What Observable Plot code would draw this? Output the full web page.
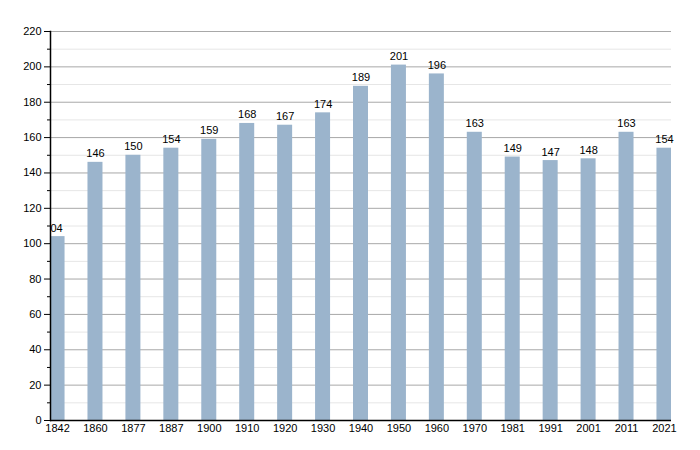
<!DOCTYPE html>
<html>
<head>
<meta charset="utf-8">
<script src="https://cdn.jsdelivr.net/npm/d3@7"></script>
<script src="https://cdn.jsdelivr.net/npm/@observablehq/plot@0.6"></script>
<style>
  html, body { margin: 0; padding: 0; background: #fff; }
</style>
</head>
<body>
<div id="chart"></div>
<script>
const years = ["1842","1860","1877","1887","1900","1910","1920","1930","1940","1950","1960","1970","1981","1991","2001","2011","2021"];
const population = [104,146,150,154,159,168,167,174,189,201,196,163,149,147,148,163,154];
const majorTicks = [0,20,40,60,80,100,120,140,160,180,200,220];
const minorTicks = [10,30,50,70,90,110,130,150,170,190,210];

const data = years.map((y, i) => ({year: y, value: population[i]}));

const labelOpts = (clip) => ({x: "year", y: "value", text: d => String(d.value), lineAnchor: "bottom", dy: -5, fill: "#000", fontSize: 11, clip});

const chart = Plot.plot({
  width: 700,
  height: 450,
  marginTop: 31,
  marginBottom: 30,
  marginLeft: 50,
  marginRight: 29,
  style: {fontFamily: "'Liberation Sans', Arial, Helvetica, sans-serif", fontSize: "11px", color: "#000", background: "#fff"},
  x: {type: "band", domain: years, paddingInner: 0.6045, paddingOuter: -0.012, round: false, label: null},
  y: {domain: [0, 220], label: null},
  marks: [
    Plot.ruleY(minorTicks, {stroke: "#e6e6e6", strokeWidth: 1}),
    Plot.ruleY(majorTicks.filter(d => d > 0), {stroke: "#a8a8a8", strokeWidth: 1}),
    Plot.barY(data, {x: "year", y: "value", fill: "#9bb4cc", clip: true}),
    Plot.text(data.slice(0, 1), {...labelOpts(true), dx: -4}),
    Plot.text(data.slice(1), labelOpts(false)),
    Plot.axisY(minorTicks, {tickSize: 3, text: null, stroke: "#000"}),
    Plot.axisY(majorTicks, {tickSize: 6, tickPadding: 3, stroke: "#000", fill: "#000", fontSize: 11}),
    Plot.axisX({tickSize: 0, tickPadding: 4, fill: "#000", fontSize: 11}),
    Plot.frame({anchor: "left", stroke: "#000", strokeWidth: 1.5}),
    Plot.ruleY([0], {stroke: "#000", strokeWidth: 1.5})
  ]
});
document.getElementById("chart").append(chart);
</script>
</body>
</html>
